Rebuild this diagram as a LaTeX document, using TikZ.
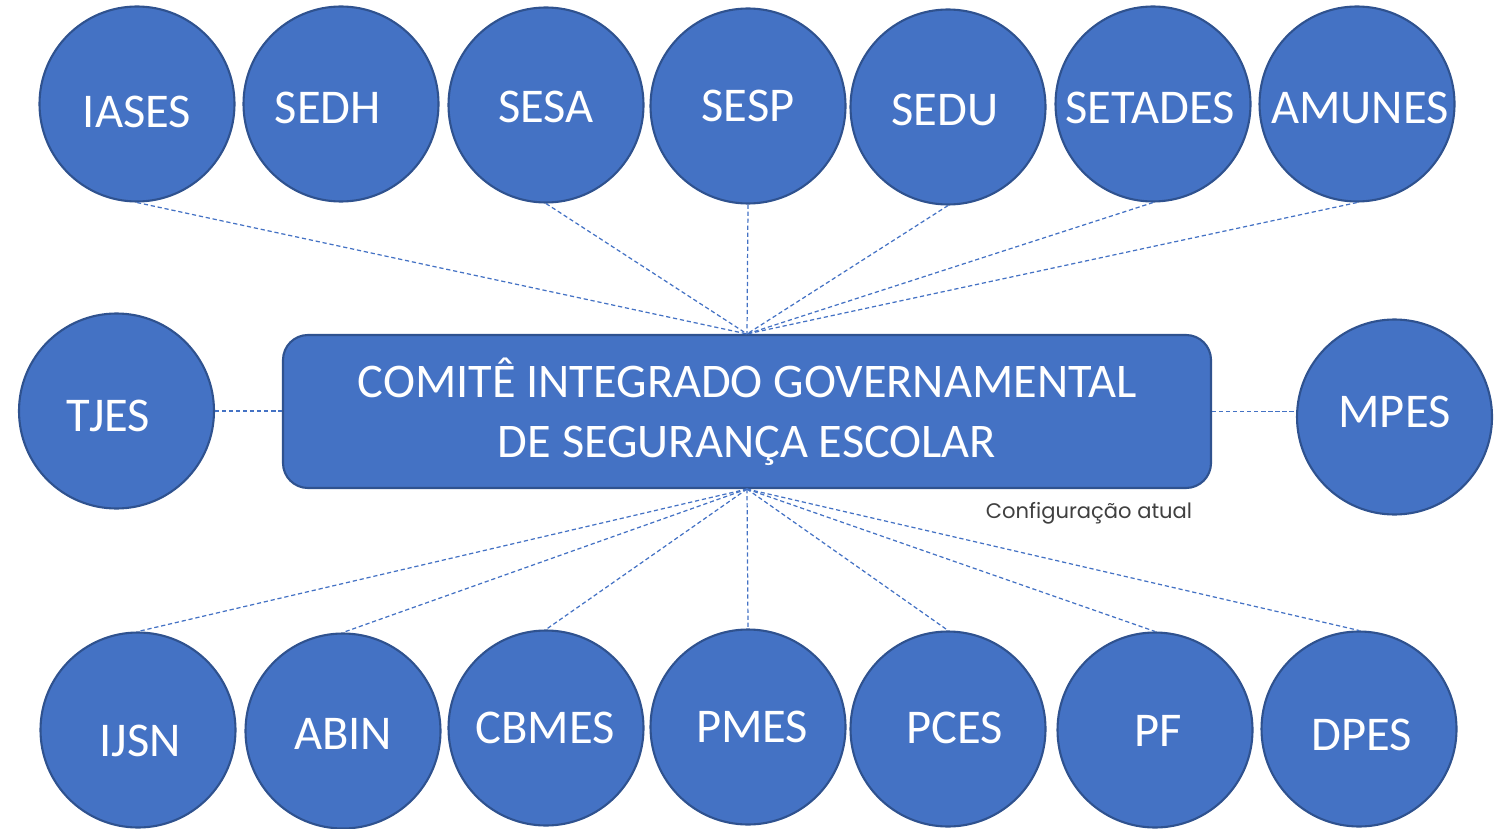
\documentclass[tikz,border=0pt]{standalone}
\usepackage{fontspec}
\setmainfont{Carlito}
\newfontfamily\captionfont{Poppins}
\usetikzlibrary{calc}
\definecolor{orgblue}{HTML}{4472C4}
\definecolor{orgedge}{HTML}{2F528F}

\begin{document}
\begin{tikzpicture}[
		org/.style={circle, fill=orgblue, draw=orgedge, line width=0.6pt, minimum size=1.95cm, inner sep=0pt},
		orgtext/.style={text=white, inner sep=0pt, font=\fontsize{13.8}{16}\selectfont},
		link/.style={orgblue, line width=0.35pt, dash pattern=on 1.2pt off 0.8pt}
	]
		\useasboundingbox (0,0) rectangle (14.96,8.28);
		
		% Central committee box
		\node[fill=orgblue, draw=orgedge, line width=0.6pt, rounded corners=0.25cm, minimum width=9.28cm, minimum height=1.53cm, text=white, align=center, font=\fontsize{13.75}{17}\selectfont] (cig) at (7.47,4.165) {COMIT\^E INTEGRADO GOVERNAMENTAL\\DE SEGURAN\c{C}A ESCOLAR};
		\node[font=\captionfont\fontsize{6}{7}\selectfont, text=black!75] (cfg) at (10.89,3.15) {Configura\c{c}\~ao atual};
		
		% Top row
		\node[org, label={[orgtext, shift={(0,-0.08)}]center:IASES}] (iases) at (1.37,7.24) {};
		\node[org, label={[orgtext, shift={(-0.13,-0.04)}]center:SEDH}] (sedh) at (3.41,7.24) {};
		\node[org, label={[orgtext, shift={(0,-0.02)}]center:SESA}] (sesa) at (5.46,7.23) {};
		\node[org, label={[orgtext]center:SESP}] (sesp) at (7.48,7.22) {};
		\node[org, label={[orgtext, shift={(-0.03,-0.03)}]center:SEDU}] (sedu) at (9.48,7.21) {};
		\node[org, label={[orgtext, shift={(-0.03,-0.04)}]center:SETADES}] (setades) at (11.53,7.24) {};
		\node[org, label={[orgtext, shift={(0.03,-0.04)}]center:AMUNES}] (amunes) at (13.57,7.24) {};
		
		% Sides
		\node[org, label={[orgtext, shift={(-0.08,-0.05)}]center:TJES}] (tjes) at (1.165,4.17) {};
		\node[org, label={[orgtext, shift={(0,0.05)}]center:MPES}] (mpes) at (13.945,4.11) {};
		
		% Bottom row
		\node[org, label={[orgtext, shift={(0.02,-0.11)}]center:IJSN}] (ijsn) at (1.38,0.98) {};
		\node[org, label={[orgtext, shift={(0,-0.03)}]center:ABIN}] (abin) at (3.43,0.97) {};
		\node[org, label={[orgtext, shift={(-0.01,0)}]center:CBMES}] (cbmes) at (5.46,1.00) {};
		\node[org, label={[orgtext, shift={(0.04,0)}]center:PMES}] (pmes) at (7.48,1.01) {};
		\node[org, label={[orgtext, shift={(0.07,0.01)}]center:PCES}] (pces) at (9.48,0.99) {};
		\node[org, label={[orgtext, shift={(0.03,-0.01)}]center:PF}] (pf) at (11.55,0.98) {};
		\node[org, label={[orgtext, shift={(0.03,-0.06)}]center:DPES}] (dpes) at (13.59,0.99) {};
		
		% Dashed links to the committee
		\foreach \o in {iases,sesa,sesp,sedu,setades,amunes}
			\draw[link] (\o.south) -- (cig.north);
		\foreach \o in {ijsn,abin,cbmes,pmes,pces,pf,dpes}
			\draw[link] (cig.south) -- (\o.north);
		\draw[link] (tjes.east) -- (tjes.east -| cig.west);
		\draw[link] (cig.east) -- (cig.east -| mpes.west);
	\end{tikzpicture}
\end{document}
